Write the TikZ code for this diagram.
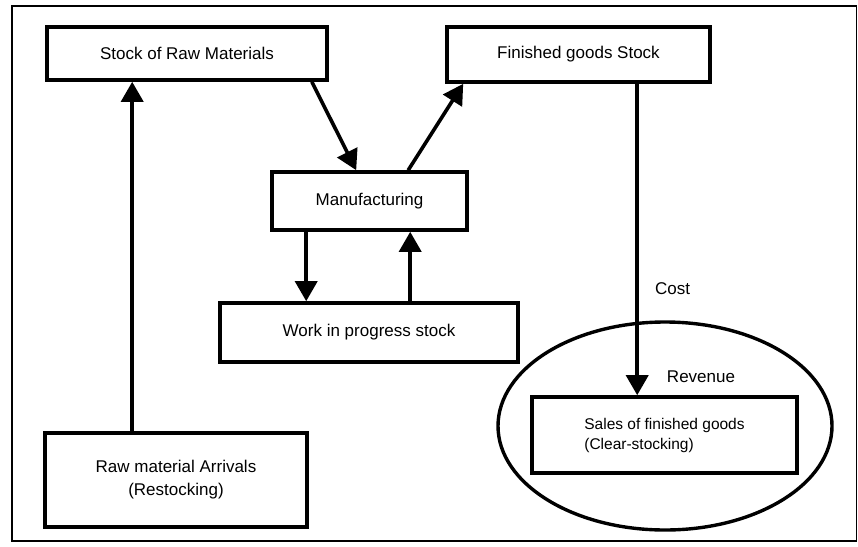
\documentclass[tikz,border=0pt]{standalone}
\usepackage{fontspec}
\setmainfont{Liberation Sans}
\usetikzlibrary{arrows.meta,shapes.geometric}
\begin{document}
\begin{tikzpicture}[x=1pt,y=-1pt,
  box/.style={draw,line width=3.6pt,inner sep=0pt,align=center,
    font=\fontsize{17}{23}\selectfont},
  flow/.style={line width=3.6pt,-{Triangle[length=20pt,width=22pt]}},
  lbl/.style={inner sep=0pt,font=\fontsize{17}{20}\selectfont}]
  \useasboundingbox (0,0) rectangle (858,546);
  % frame
  \draw[line width=1.6pt] (12,6) rectangle (856.5,541);

  % stocks and processes
  \node[box,minimum width=280pt,minimum height=53pt] (rm) at (187,53.5) {Stock of Raw Materials};
  \node[box,minimum width=263pt,minimum height=55pt] (fg) at (578.5,54.5) {Finished goods Stock};
  \node[box,minimum width=195pt,minimum height=58pt] (mf) at (369.5,201) {Manufacturing};
  \node[box,minimum width=298pt,minimum height=59pt] (wip) at (369,332.5) {Work in progress stock};
  \node[box,minimum width=262pt,minimum height=94pt] (ra) at (176,480) {Raw material Arrivals\\(Restocking)};

  % sales inside the revenue ellipse
  \node[draw,ellipse,line width=3.4pt,minimum width=334pt,minimum height=208pt,inner sep=0pt] (rev) at (665,426) {};
  \node[box,minimum width=265pt,minimum height=76pt,
    font=\fontsize{15.5}{20}\selectfont] (sales) at (664.5,435)
    {\begin{tabular}{@{}l@{}}Sales of finished goods\\(Clear-stocking)\end{tabular}};

  % flows
  \draw[flow] ([xshift=89pt]ra.north west) -- ([xshift=89pt]ra.north west |- rm.south);
  \draw[flow] ([xshift=-17pt]rm.south east) -- ([xshift=86pt]mf.north west);
  \draw[flow] ([xshift=138pt]mf.north west) -- ([xshift=18pt]fg.south west);
  \draw[flow] ([xshift=36pt]mf.south west) -- ([xshift=36pt]mf.south west |- wip.north);
  \draw[flow] ([xshift=192pt]wip.north west) -- ([xshift=192pt]wip.north west |- mf.south);
  \draw[flow] ([xshift=192pt]fg.south west) -- ([xshift=192pt]fg.south west |- sales.north);

  % labels
  \node[lbl] (cost) at (672.5,289) {Cost};
  \node[lbl] (revlbl) at (701,377) {Revenue};
\end{tikzpicture}
\end{document}
